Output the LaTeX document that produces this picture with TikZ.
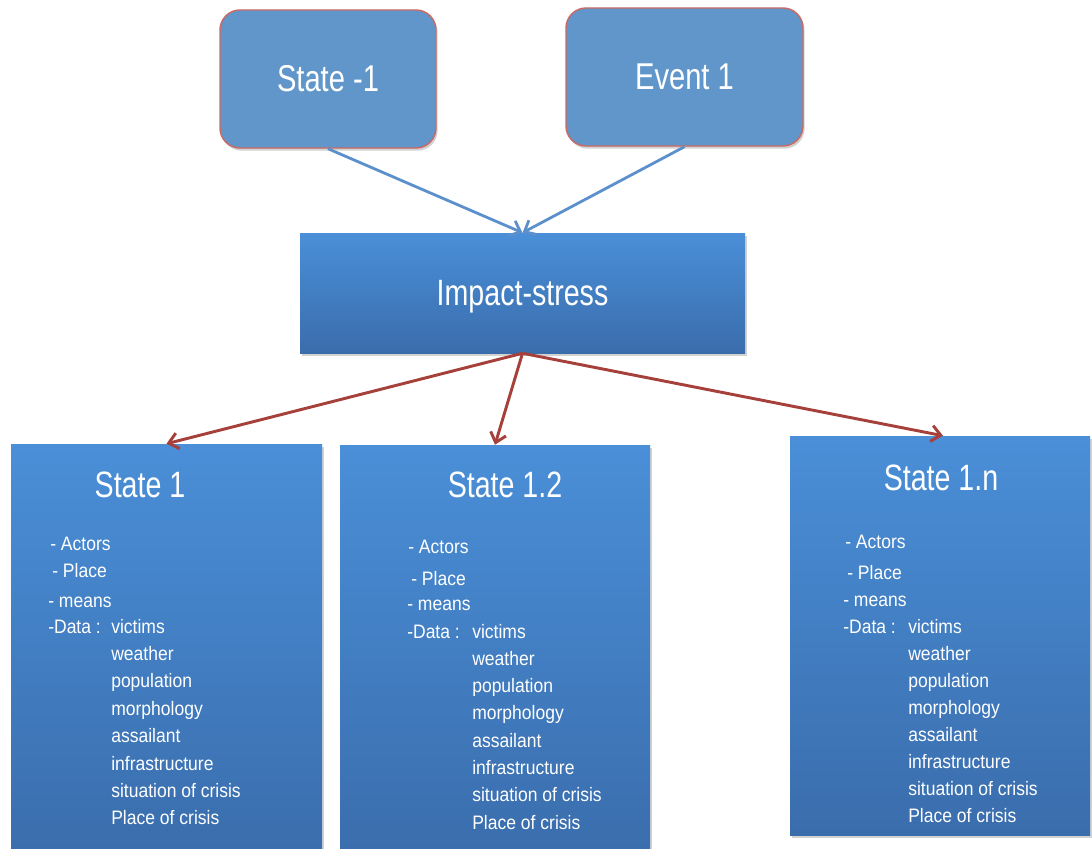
\documentclass[tikz,border=0pt]{standalone}
\usepackage{fontspec}
\setmainfont{Liberation Sans}
\newfontfamily\headfont[FakeStretch=0.78]{Liberation Sans}
\newfontfamily\itemfont[FakeStretch=0.9]{Liberation Sans}
\usetikzlibrary{arrows.meta,shadows}

\definecolor{roundfill}{HTML}{6096CA}
\definecolor{roundedge}{HTML}{C96A66}
\definecolor{boxtop}{HTML}{4A8FD8}
\definecolor{boxbot}{HTML}{3A6DAC}
\definecolor{bluearrow}{HTML}{5B90CD}
\definecolor{redarrow}{HTML}{A5403B}

\tikzset{
  softshadow/.style={drop shadow={shadow xshift=1.2pt, shadow yshift=-2pt, opacity=0.25, fill=black!70}},
  roundbox/.style={rectangle, rounded corners=15pt, fill=roundfill, draw=roundedge,
    line width=1.1pt, text=white, inner sep=0pt, softshadow,
    font=\headfont\fontsize{28}{32}\selectfont},
  gradbox/.style={rectangle, top color=boxtop, bottom color=boxbot, draw=none,
    inner sep=0pt, softshadow},
  headtext/.style={text=white, inner sep=0pt, anchor=base,
    font=\headfont\fontsize{27.5}{30}\selectfont},
  itemtext/.style={text=white, inner sep=0pt, anchor=base west,
    font=\itemfont\fontsize{14.6}{17}\selectfont},
  blueconn/.style={draw=bluearrow, line width=2.1pt,
    -{Straight Barb[length=7pt,width=12pt]}},
  redconn/.style={draw=redarrow, line width=2.2pt,
    -{Straight Barb[length=7pt,width=12pt]}},
}

\begin{document}
\begin{tikzpicture}[x=0.75pt,y=-0.75pt]
\useasboundingbox (0,0) rectangle (1092,849);
\clip (0,0) rectangle (1092,849);

% top row: previous state and triggering event
\node[roundbox, minimum width=162pt, minimum height=103.5pt] (sm1) at (328,79) {State -1};
\node[roundbox, minimum width=177.75pt, minimum height=103.5pt] (ev1) at (684.5,77) {Event 1};

% impact box
\node[gradbox, minimum width=333.75pt, minimum height=90pt,
      text=white, text depth=0pt, font=\headfont\fontsize{27.5}{30}\selectfont]
      (imp) at (522.5,293) {Impact-stress};

% resulting states
\node[gradbox, minimum width=233.25pt, minimum height=312pt] (s1) at (166.5,652) {};
\node[gradbox, minimum width=232.5pt, minimum height=311.25pt] (s2) at (495,652.5) {};
\node[gradbox, minimum width=225pt, minimum height=299.25pt] (s3) at (940,635.5) {};

% titles
\node[headtext] (s1t) at (140,497) {State 1};
\node[headtext] (s2t) at (505,497) {State 1.2};
\node[headtext] (s3t) at (941,490) {State 1.n};

% attribute lists
\foreach \bx/\xa/\ya/\xb/\yb/\xc/\yc/\xd/\yd/\xr/\yr/\st in {
    s1/50/550/52/577/48/607/48/633/111/633/27.4,
    s2/408/553/411/585/407/610/407/638/472/638/27.3,
    s3/845/548/847/579/843/606/843/633/908/633/27.1}{
  \node[itemtext] (\bx a) at (\xa,\ya) {- Actors};
  \node[itemtext] (\bx b) at (\xb,\yb) {- Place};
  \node[itemtext] (\bx c) at (\xc,\yc) {- means};
  \node[itemtext] (\bx d) at (\xd,\yd) {-Data :};
  \foreach \t [count=\i from 0] in {victims, weather, population, morphology,
      assailant, infrastructure, situation of crisis, Place of crisis}{
    \node[itemtext] (\bx r\i) at (\xr,{\yr+\i*\st}) {\t};
  }
}

% connectors
\draw[blueconn] (sm1.south) -- (imp.north);
\draw[blueconn] (ev1.south) -- (imp.north);
\draw[redconn] (imp.south) -- (s1.north);
\draw[redconn] (imp.south) -- (s2.north);
\draw[redconn] (imp.south) -- ([xshift=2.25pt]s3.north);
\end{tikzpicture}
\end{document}
